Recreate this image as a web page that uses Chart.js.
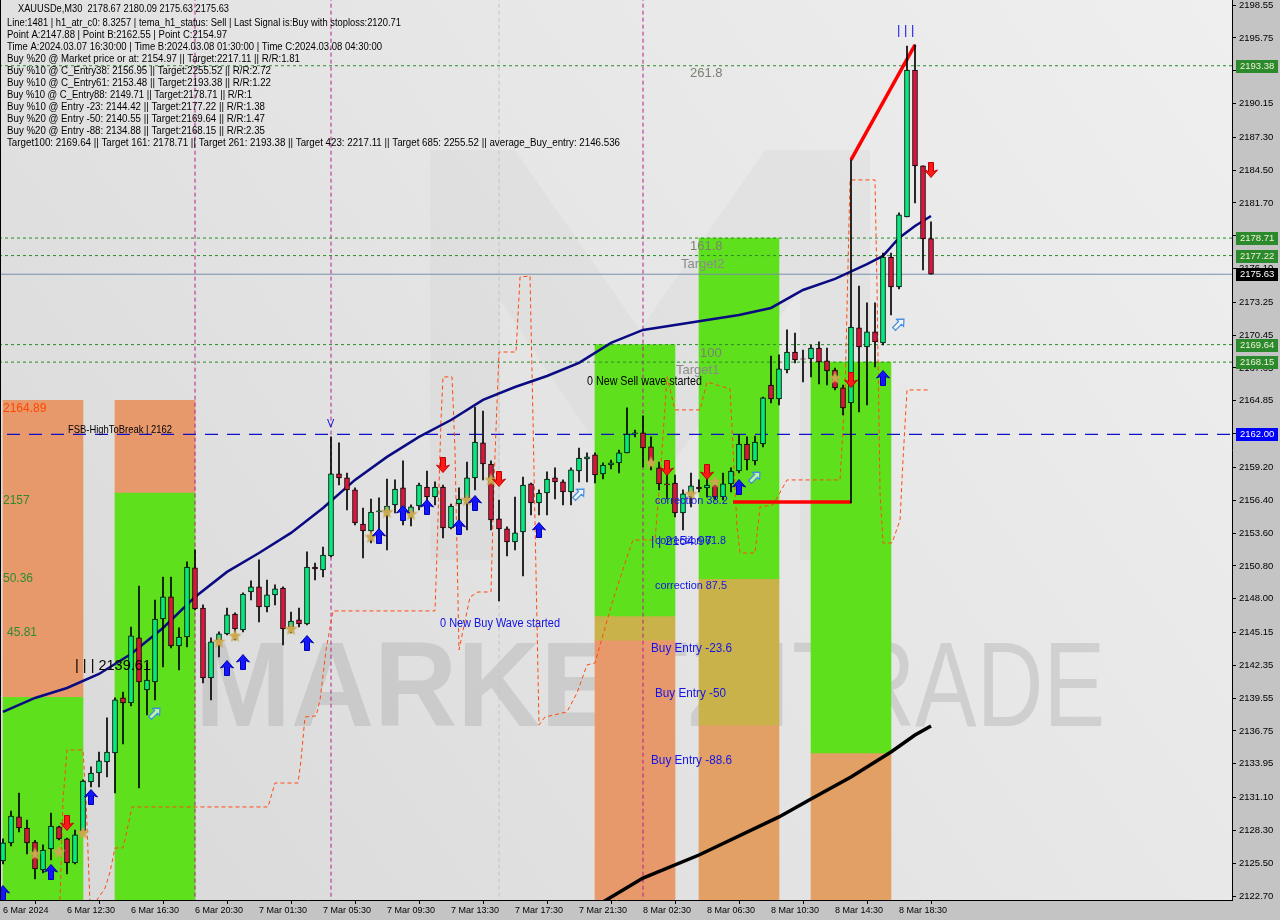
<!DOCTYPE html>
<html lang="en">
<head>
    <meta charset="UTF-8">
    <title>XAUUSDe M30</title>
    <script src="https://cdn.jsdelivr.net/npm/chart.js@4.4.1/dist/chart.umd.min.js"></script>
    <style>
        html, body {
            margin: 0;
            padding: 0;
            background: #c4c4c4;
        }
        #wrap {
            width: 1280px;
            height: 920px;
        }
    </style>
</head>
<body>
    <div id="wrap"><canvas id="chart" width="1280" height="920"></canvas></div>
    <script>
        // time axis: one tick every 8 bars (M30)
        var timeLabels = ['6 Mar 2024', '6 Mar 12:30', '6 Mar 16:30', '6 Mar 20:30', '7 Mar 01:30', '7 Mar 05:30',
            '7 Mar 09:30', '7 Mar 13:30', '7 Mar 17:30', '7 Mar 21:30', '8 Mar 02:30', '8 Mar 06:30',
            '8 Mar 10:30', '8 Mar 14:30', '8 Mar 18:30'];
        var timeTickBars = [0, 8, 16, 24, 32, 40, 48, 56, 64, 72, 80, 88, 96, 104, 112];

        var priceTicks = [2198.55, 2195.75, 2192.95, 2190.15, 2187.30, 2184.50, 2181.70, 2178.90, 2176.10, 2173.25,
            2170.45, 2167.65, 2164.85, 2162.05, 2159.20, 2156.40, 2153.60, 2150.80, 2148.00, 2145.15, 2142.35,
            2139.55, 2136.75, 2133.95, 2131.10, 2128.30, 2125.50, 2122.70];

        // candles, bar 0 = 6 Mar 08:30
        var open = [2125.68, 2127.22, 2129.43, 2128.49, 2127.30, 2124.92, 2126.70, 2128.58, 2127.56, 2125.51,
            2128.24, 2132.41, 2133.17, 2134.11, 2134.88, 2139.56, 2139.13, 2144.67, 2140.24, 2140.92,
            2146.28, 2148.16, 2143.99, 2144.75, 2150.63, 2147.22, 2141.26, 2144.50, 2145.01, 2146.71,
            2145.35, 2148.58, 2149.01, 2147.31, 2148.33, 2148.92, 2145.60, 2146.20, 2145.86, 2150.71,
            2150.46, 2151.65, 2158.63, 2158.29, 2157.27, 2154.37, 2153.78, 2155.39, 2155.39, 2155.99,
            2157.44, 2155.31, 2155.90, 2157.52, 2156.67, 2157.52, 2154.03, 2156.07, 2156.59, 2158.29,
            2161.27, 2159.48, 2154.80, 2153.95, 2152.84, 2153.69, 2157.78, 2156.16, 2157.01, 2158.29,
            2157.95, 2157.10, 2158.88, 2159.90, 2160.25, 2158.63, 2159.39, 2159.57, 2160.42, 2162.03,
            2162.12, 2160.93, 2159.14, 2157.78, 2157.86, 2155.31, 2156.93, 2157.52, 2157.44, 2157.69,
            2156.67, 2157.78, 2158.88, 2161.18, 2159.74, 2161.18, 2166.20, 2165.01, 2167.48, 2169.01,
            2168.42, 2168.42, 2169.35, 2168.25, 2167.48, 2165.95, 2164.67, 2171.06, 2169.44, 2170.72,
            2169.78, 2177.10, 2174.55, 2180.51, 2193.02, 2184.85, 2178.67];
        var high = [2127.56, 2129.94, 2131.47, 2129.17, 2127.45, 2127.05, 2129.77, 2128.66, 2127.64, 2128.32,
            2132.58, 2133.69, 2134.96, 2137.86, 2139.56, 2140.07, 2145.60, 2149.09, 2142.54, 2147.90,
            2149.86, 2149.86, 2145.52, 2151.14, 2152.16, 2147.48, 2144.67, 2145.18, 2147.22, 2146.80,
            2148.50, 2149.52, 2151.31, 2149.60, 2149.18, 2149.01, 2146.88, 2147.22, 2151.99, 2151.05,
            2152.41, 2161.78, 2161.27, 2158.71, 2157.44, 2155.73, 2156.50, 2156.59, 2158.20, 2158.12,
            2159.74, 2155.99, 2157.86, 2158.88, 2157.95, 2157.69, 2156.07, 2157.44, 2159.65, 2164.33,
            2163.99, 2159.74, 2156.41, 2154.12, 2156.67, 2158.37, 2157.86, 2157.27, 2158.80, 2159.14,
            2158.12, 2159.14, 2160.84, 2160.42, 2160.42, 2159.57, 2159.82, 2160.67, 2164.25, 2162.37,
            2163.57, 2161.78, 2159.65, 2158.80, 2158.54, 2157.27, 2158.71, 2158.12, 2158.54, 2158.12,
            2158.71, 2159.14, 2161.95, 2161.78, 2161.86, 2165.18, 2168.67, 2168.76, 2170.89, 2170.63,
            2169.18, 2169.61, 2169.87, 2169.35, 2167.65, 2166.20, 2185.36, 2174.63, 2173.19, 2173.19,
            2177.44, 2177.44, 2180.85, 2195.06, 2195.15, 2184.85, 2180.09];
        var low = [2125.43, 2126.96, 2128.15, 2126.28, 2124.15, 2124.66, 2125.77, 2127.47, 2124.58, 2125.43,
            2128.15, 2131.98, 2131.98, 2132.83, 2131.47, 2135.64, 2138.88, 2131.90, 2138.11, 2139.39,
            2142.20, 2143.82, 2141.94, 2143.90, 2147.05, 2140.84, 2139.39, 2143.05, 2144.92, 2144.50,
            2145.18, 2147.90, 2146.03, 2146.88, 2147.48, 2144.07, 2145.09, 2145.60, 2145.77, 2149.60,
            2149.86, 2151.56, 2157.69, 2155.56, 2154.29, 2151.48, 2152.75, 2153.69, 2152.16, 2155.31,
            2154.29, 2154.20, 2155.56, 2155.90, 2155.99, 2153.18, 2153.95, 2154.12, 2153.86, 2157.27,
            2158.12, 2153.86, 2147.82, 2151.65, 2152.16, 2149.95, 2155.14, 2155.14, 2155.14, 2156.50,
            2155.99, 2155.99, 2157.95, 2157.95, 2157.86, 2158.20, 2159.05, 2158.71, 2160.42, 2161.78,
            2159.22, 2158.97, 2157.27, 2156.50, 2154.97, 2153.86, 2155.82, 2157.10, 2156.67, 2156.41,
            2156.41, 2157.10, 2158.71, 2158.97, 2159.39, 2160.93, 2164.67, 2164.50, 2167.23, 2168.08,
            2166.46, 2166.89, 2166.29, 2166.20, 2165.78, 2163.65, 2156.16, 2163.91, 2164.50, 2167.74,
            2169.61, 2172.16, 2174.38, 2180.51, 2181.70, 2175.99, 2175.63];
        var close = [2127.22, 2129.51, 2128.49, 2127.22, 2125.00, 2126.62, 2128.66, 2127.56, 2125.51, 2127.90,
            2132.49, 2133.17, 2134.20, 2134.96, 2139.39, 2139.13, 2144.84, 2140.92, 2141.09, 2146.28,
            2148.16, 2143.99, 2144.75, 2150.71, 2147.14, 2141.26, 2144.33, 2145.01, 2146.63, 2145.43,
            2148.41, 2149.01, 2147.31, 2148.33, 2148.84, 2145.43, 2146.11, 2145.86, 2150.71, 2150.54,
            2151.73, 2158.63, 2158.29, 2157.27, 2154.46, 2153.78, 2155.39, 2155.48, 2155.90, 2157.35,
            2155.39, 2155.82, 2157.69, 2156.67, 2157.52, 2154.03, 2155.90, 2156.50, 2158.29, 2161.35,
            2159.48, 2154.71, 2153.95, 2152.84, 2153.61, 2157.69, 2156.16, 2157.01, 2158.20, 2157.95,
            2157.10, 2158.97, 2159.99, 2160.08, 2158.54, 2159.39, 2159.57, 2160.42, 2162.03, 2162.12,
            2160.84, 2159.65, 2157.78, 2157.69, 2155.31, 2156.93, 2157.61, 2157.35, 2157.69, 2156.67,
            2157.78, 2158.88, 2161.18, 2159.82, 2161.35, 2165.10, 2165.01, 2167.57, 2169.01, 2168.33,
            2168.40, 2169.35, 2168.16, 2167.40, 2165.95, 2164.25, 2171.14, 2169.44, 2170.72, 2169.87,
            2177.10, 2174.55, 2180.68, 2193.02, 2184.85, 2178.63, 2175.63];

        // moving average (navy)
        var maBars = [0, 4, 8, 12, 16, 20, 24, 28, 32, 36, 40, 44, 48, 52, 56, 60, 64, 68, 72, 76, 80, 84, 88, 92,
            96, 100, 104, 108, 110, 112, 114, 116];
        var maValues = [2138.37, 2139.56, 2140.41, 2141.60, 2143.30, 2145.52, 2148.16, 2150.29, 2151.90, 2153.61,
            2155.73, 2158.12, 2160.08, 2161.78, 2163.22, 2164.93, 2166.03, 2166.97, 2168.08, 2169.78, 2170.89,
            2171.31, 2171.74, 2172.16, 2172.76, 2174.29, 2175.23, 2176.50, 2177.19, 2178.72, 2179.74, 2180.59];

        // long black trend line
        var blackBars = [75, 80, 87, 97, 101, 106, 111, 114, 116];
        var blackValues = [2122.19, 2124.23, 2126.19, 2129.43, 2130.96, 2132.83, 2134.96, 2136.41, 2137.18];

        // red zigzag pieces
        var redFlatBars = [91.25, 106];
        var redFlatValues = [2156.24, 2156.24];
        var redUpBars = [106, 114];
        var redUpValues = [2185.36, 2195.15];

        // orange dashed stop line
        var stopBars = [7.13, 7.5, 8.0, 10.0, 10.38, 10.88, 11.75, 12.75, 13.38, 14.0, 15.0, 15.38, 16.13, 33.13, 34.0,
            36.88, 37.25, 37.75, 39.13, 39.63, 40.38, 41.25, 54.0, 54.25, 54.75, 55.0, 56.13, 56.5, 57.0, 58.38,
            59.38, 61.0, 61.38, 62.0, 64.13, 64.63, 65.88, 66.25, 67.0, 67.75, 70.5, 71.75, 73.0, 74.0, 76.25,
            77.88, 78.75, 81.5, 82.13, 83.0, 84.0, 87.13, 88.0, 90.88, 91.75, 92.13, 94.0, 94.63, 96.25, 98.0,
            104.63, 105.25, 105.88, 109.0, 109.25, 109.63, 110.0, 111.13, 112.13, 112.5, 113.0, 115.88];
        var stopValues = [2122.36, 2130.87, 2135.13, 2135.13, 2130.87, 2121.94, 2122.36, 2123.38, 2124.74, 2126.79,
            2126.79, 2127.90, 2130.28, 2130.28, 2132.32, 2132.32, 2134.28, 2137.94, 2138.03, 2139.39, 2143.65,
            2146.97, 2146.97, 2151.90, 2163.22, 2166.89, 2166.89, 2160.67, 2143.65, 2148.16, 2148.58, 2148.58,
            2158.12, 2169.01, 2169.01, 2175.40, 2175.48, 2163.22, 2137.26, 2137.94, 2138.37, 2139.99, 2142.37,
            2142.54, 2147.90, 2151.31, 2153.01, 2153.01, 2158.12, 2166.89, 2164.08, 2164.08, 2166.46, 2165.86,
            2154.12, 2151.90, 2151.90, 2155.82, 2155.99, 2158.12, 2158.12, 2165.52, 2183.66, 2183.66, 2174.55,
            2157.01, 2152.75, 2152.75, 2154.71, 2159.82, 2165.78, 2165.78];

        // horizontal levels
        var targetLevels = [2193.38, 2178.71, 2177.22, 2169.64, 2168.15];
        var lastPrice = 2175.63;
        var breakLevel = 2162.00;

        // vertical separators (bar index)
        var separatorBars = [24, 41, 80];
        var greySeparatorBars = [62];

        // coloured zones: centre bar, low, high
        var greenZoneBars = [5, 19, 79, 92, 106];
        var greenZoneLow = [2110, 2110, 2146.54, 2149.71, 2134.88];
        var greenZoneHigh = [2139.61, 2157.00, 2169.64, 2178.71, 2168.15];
        var orangeZoneBars = [5, 19, 79];
        var orangeZoneLow = [2139.61, 2157.00, 2110];
        var orangeZoneHigh = [2164.89, 2164.89, 2144.42];
        var khakiZoneBars = [79, 92];
        var khakiZoneLow = [2144.42, 2137.26];
        var khakiZoneHigh = [2146.54, 2149.71];
        var tanZoneBars = [92, 106];
        var tanZoneLow = [2110, 2110];
        var tanZoneHigh = [2137.26, 2134.88];

        // signal markers
        var buyArrowBars = [0, 6, 11, 28, 30, 38, 47, 50, 53, 57, 59, 67, 92, 110];
        var buyArrowPrices = [2122.96, 2124.75, 2131.13, 2142.11, 2142.62, 2144.24, 2153.35, 2155.31, 2155.82,
            2154.12, 2156.16, 2153.86, 2157.52, 2166.80];
        var sellArrowBars = [8, 55, 62, 83, 88, 106, 116];
        var sellArrowPrices = [2128.92, 2159.39, 2158.20, 2159.14, 2158.80, 2166.63, 2184.51];
        var starBars = [4, 7, 10, 27, 29, 36, 46, 48, 51, 58, 61, 81, 86, 89, 104];
        var starPrices = [2126.28, 2126.45, 2128.07, 2144.33, 2144.84, 2145.43, 2153.27, 2155.39, 2155.22,
            2156.41, 2158.12, 2159.57, 2156.93, 2157.95, 2166.80];
        var hollowBars = [19, 72, 94, 112];
        var hollowPrices = [2138.28, 2156.93, 2158.37, 2171.40];

        var headerLines = [
            'XAUUSDe,M30  2178.67 2180.09 2175.63 2175.63',
            'Line:1481 | h1_atr_c0: 8.3257 | tema_h1_status: Sell | Last Signal is:Buy with stoploss:2120.71',
            'Point A:2147.88 | Point B:2162.55 | Point C:2154.97',
            'Time A:2024.03.07 16:30:00 | Time B:2024.03.08 01:30:00 | Time C:2024.03.08 04:30:00',
            'Buy %20 @ Market price or at: 2154.97 || Target:2217.11 || R/R:1.81',
            'Buy %10 @ C_Entry38: 2156.95 || Target:2255.52 || R/R:2.72',
            'Buy %10 @ C_Entry61: 2153.48 || Target:2193.38 || R/R:1.22',
            'Buy %10 @ C_Entry88: 2149.71 || Target:2178.71 || R/R:1',
            'Buy %10 @ Entry -23: 2144.42 || Target:2177.22 || R/R:1.38',
            'Buy %20 @ Entry -50: 2140.55 || Target:2169.64 || R/R:1.47',
            'Buy %20 @ Entry -88: 2134.88 || Target:2168.15 || R/R:2.35',
            'Target100: 2169.64 || Target 161: 2178.71 || Target 261: 2193.38 || Target 423: 2217.11 || Target 685: 2255.52 || average_Buy_entry: 2146.536'
        ];

        // ---------- helpers ----------
        function pts(xs, ys) {
            return xs.map(function(x, i) { return { x: x, y: ys[i] }; });
        }
        function spans(xs, lo, hi) {
            return xs.map(function(x, i) { return { x: x, y: [lo[i], hi[i]] }; });
        }
        function hline(v) {
            return [{ x: -5, y: v }, { x: 170, y: v }];
        }
        function vline(b) {
            return [{ x: b, y: 2100 }, { x: b, y: 2210 }];
        }

        function makeArrow(color, edge, down) {
            var c = document.createElement('canvas');
            c.width = 14; c.height = 16;
            var g = c.getContext('2d');
            var p = [[7, 0.5], [13.5, 8], [9.5, 6.5], [9.5, 15.5], [4.5, 15.5], [4.5, 6.5], [0.5, 8]];
            g.beginPath();
            p.forEach(function(q, i) {
                var y = down ? 16 - q[1] : q[1];
                if (i === 0) g.moveTo(q[0], y); else g.lineTo(q[0], y);
            });
            g.closePath();
            g.fillStyle = color;
            g.fill();
            g.strokeStyle = edge;
            g.lineWidth = 1;
            g.stroke();
            return c;
        }
        function makeStar() {
            var c = document.createElement('canvas');
            c.width = 15; c.height = 15;
            var g = c.getContext('2d');
            g.beginPath();
            for (var i = 0; i < 10; i++) {
                var r = i % 2 === 0 ? 7 : 3;
                var a = -Math.PI / 2 + i * Math.PI / 5;
                var x = 7.5 + r * Math.cos(a), y = 7.8 + r * Math.sin(a);
                if (i === 0) g.moveTo(x, y); else g.lineTo(x, y);
            }
            g.closePath();
            g.fillStyle = '#c9a84e';
            g.fill();
            return c;
        }
        function makeHollow() {
            var c = document.createElement('canvas');
            c.width = 16; c.height = 16;
            var g = c.getContext('2d');
            g.translate(8, 8);
            g.rotate(Math.PI / 4);
            var p = [[0, -7], [5, -1.5], [2, -1.5], [2, 7], [-2, 7], [-2, -1.5], [-5, -1.5]];
            g.beginPath();
            p.forEach(function(q, i) { if (i === 0) g.moveTo(q[0], q[1]); else g.lineTo(q[0], q[1]); });
            g.closePath();
            g.fillStyle = 'rgba(255,255,255,0.6)';
            g.fill();
            g.strokeStyle = '#3d8de0';
            g.lineWidth = 1.2;
            g.stroke();
            return c;
        }

        var bars = open.map(function(v, i) { return i; });
        var bodyColors = open.map(function(v, i) { return close[i] >= v ? '#00ec7c' : '#dc143c'; });

        var yMax = 2198.976;
        var yMin = 2122.36;
        var xMin = -0.375;
        var xMax = 153.625;

        function lineSet(data, color, width, order, dash) {
            return {
                type: 'line', data: data, borderColor: color, borderWidth: width, pointRadius: 0,
                tension: 0, fill: false, order: order, borderDash: dash || []
            };
        }
        function markerSet(data, img) {
            return {
                type: 'line', data: data, showLine: false, pointStyle: img, pointRadius: 6, order: 5
            };
        }
        function zoneSet(data, color) {
            return {
                type: 'bar', data: data, backgroundColor: color, barThickness: 80, grouped: false,
                borderWidth: 0, order: 200
            };
        }

        var datasets = [
            zoneSet(spans(greenZoneBars, greenZoneLow, greenZoneHigh), '#5fe01c'),
            zoneSet(spans(orangeZoneBars, orangeZoneLow, orangeZoneHigh), '#e8996b'),
            zoneSet(spans(khakiZoneBars, khakiZoneLow, khakiZoneHigh), '#cab24a'),
            zoneSet(spans(tanZoneBars, tanZoneLow, tanZoneHigh), '#e2a064')
        ];
        separatorBars.forEach(function(b) {
            datasets.push(lineSet(vline(b), '#b0208c', 1, 150, [4, 3]));
        });
        greySeparatorBars.forEach(function(b) {
            datasets.push(lineSet(vline(b), '#c4c4c4', 1, 150, [4, 3]));
        });
        targetLevels.forEach(function(v) {
            datasets.push(lineSet(hline(v), '#2a8c2a', 1, 140, [3, 3]));
        });
        datasets.push(lineSet(hline(lastPrice), '#7890a8', 1, 140));
        datasets.push(lineSet(hline(breakLevel), '#1010c8', 1.2, 140, [13, 9]));
        datasets.push(lineSet(pts(stopBars, stopValues), '#ff4a10', 1, 120, [4, 3]));
        datasets.push(lineSet(pts(blackBars, blackValues), '#000000', 3.5, 110));
        datasets.push(lineSet(pts(maBars, maValues), '#0a0a82', 2.5, 100));
        datasets.push(lineSet(pts(redFlatBars, redFlatValues), '#ff0000', 3.5, 90));
        datasets.push(lineSet(pts(redUpBars, redUpValues), '#ff0000', 3.5, 90));
        datasets.push({
            type: 'bar', data: spans(bars, low, high), backgroundColor: '#000', barThickness: 1,
            grouped: false, order: 40
        });
        datasets.push({
            type: 'bar', data: spans(bars, open, close), backgroundColor: bodyColors, borderColor: '#000',
            borderWidth: 1, borderSkipped: false, barThickness: 5, grouped: false, order: 30
        });
        datasets.push(markerSet(pts(buyArrowBars, buyArrowPrices), makeArrow('#1414ff', '#0000b0', false)));
        datasets.push(markerSet(pts(sellArrowBars, sellArrowPrices), makeArrow('#ff1a1a', '#c00000', true)));
        datasets.push(markerSet(pts(starBars, starPrices), makeStar()));
        datasets.push(markerSet(pts(hollowBars, hollowPrices), makeHollow()));

        // background, watermark, texts and price tags
        var decor = {
            id: 'decor',
            beforeDraw: function(chart) {
                var ctx = chart.ctx, a = chart.chartArea;
                ctx.save();
                ctx.fillStyle = '#c4c4c4';
                ctx.fillRect(0, 0, chart.width, chart.height);
                var g = ctx.createLinearGradient(a.left, a.bottom, a.right, a.top);
                g.addColorStop(0, '#d8d8d8');
                g.addColorStop(0.55, '#e6e6e6');
                g.addColorStop(1, '#efefef');
                ctx.fillStyle = g;
                ctx.fillRect(a.left, a.top, a.right - a.left, a.bottom - a.top);
                ctx.restore();
            },
            beforeDatasetsDraw: function(chart) {
                var ctx = chart.ctx, a = chart.chartArea;
                ctx.save();
                ctx.beginPath();
                ctx.rect(a.left, a.top, a.right - a.left, a.bottom - a.top);
                ctx.clip();
                // faint logo behind the candles
                ctx.fillStyle = 'rgba(185,185,185,0.13)';
                ctx.beginPath();
                ctx.moveTo(430, 150); ctx.lineTo(515, 150); ctx.lineTo(640, 330); ctx.lineTo(765, 150);
                ctx.lineTo(870, 150); ctx.lineTo(870, 560); ctx.lineTo(800, 560); ctx.lineTo(800, 290);
                ctx.lineTo(660, 480); ctx.lineTo(620, 480); ctx.lineTo(500, 300); ctx.lineTo(500, 560);
                ctx.lineTo(430, 560); ctx.closePath();
                ctx.fill();

                ctx.fillStyle = 'rgba(165,165,165,0.36)';
                ctx.font = 'bold 120px "Liberation Sans"';
                ctx.textBaseline = 'alphabetic';
                ctx.fillText('MARKETZI', 195, 726, 595);
                ctx.fillStyle = 'rgba(165,165,165,0.36)';
                ctx.font = '120px "Liberation Sans"';
                ctx.fillText('TRADE', 792, 726, 313);
                ctx.restore();
            },
            afterDatasetsDraw: function(chart) {
                var ctx = chart.ctx;
                ctx.save();
                ctx.textBaseline = 'middle';
                ctx.textAlign = 'left';

                function t(s, x, y, color, size, maxW) {
                    ctx.fillStyle = color;
                    ctx.font = size + 'px "Liberation Sans"';
                    if (maxW) ctx.fillText(s, x, y, maxW); else ctx.fillText(s, x, y);
                }

                t('2164.89', 3, 409, '#ff4500', 12);
                t('2157', 3, 501, '#2f8a2f', 12);
                t('50.36', 3, 579, '#2f8a2f', 12);
                t('45.81', 7, 633, '#2f8a2f', 12);
                t('| | | 2139.61', 75, 666, '#000', 15, 76);
                t('FSB-HighToBreak | 2162', 68, 430, '#000', 11, 104);
                t('V', 327, 424, '#1010e0', 11);
                t('0 New Buy Wave started', 440, 624, '#1010e0', 12, 120);
                t('0 New Sell wave started', 587, 382, '#000', 12, 115);
                t('261.8', 690, 73, '#7a8270', 13);
                t('161.8', 690, 246, '#7a8270', 13);
                t('Target2', 681, 264, '#8a8a8a', 13);
                t('100', 700, 353, '#7a8270', 13);
                t('Target1', 676, 370, '#8a8a8a', 13);
                t('correction 38.2', 655, 501, '#1414e6', 11, 73);
                t('| | 2154.97', 651, 541, '#1414e6', 13, 64);
                t('correction 61.8', 655, 541, '#1414e6', 11, 71);
                t('correction 87.5', 655, 586, '#1414e6', 11, 72);
                t('Buy Entry -23.6', 651, 649, '#1414e6', 12, 81);
                t('Buy Entry -50', 655, 694, '#1414e6', 12, 71);
                t('Buy Entry -88.6', 651, 761, '#1414e6', 12, 81);
                t('| | |', 897, 30, '#1414e6', 13);

                var widths = [211, 394, 220, 375, 293, 264, 264, 245, 258, 258, 258, 613];
                headerLines.forEach(function(s, i) {
                    var y = i === 0 ? 9 : 23 + (i - 1) * 12;
                    t(s, i === 0 ? 18 : 7, y, '#000', 10, widths[i]);
                });
                ctx.restore();
            },
            afterDraw: function(chart) {
                var ctx = chart.ctx, a = chart.chartArea, ys = chart.scales.y;
                ctx.save();
                ctx.strokeStyle = '#000';
                ctx.lineWidth = 1;
                ctx.beginPath();
                ctx.moveTo(a.left + 0.5, a.top);
                ctx.lineTo(a.left + 0.5, a.bottom);
                ctx.stroke();

                function tag(v, bg, fg) {
                    var y = Math.round(ys.getPixelForValue(v));
                    ctx.fillStyle = bg;
                    ctx.fillRect(a.right + 4, y - 6, 42, 13);
                    ctx.fillStyle = fg;
                    ctx.font = '9.5px "Liberation Sans"';
                    ctx.textBaseline = 'middle';
                    ctx.fillText(v.toFixed(2), a.right + 8, y + 0.5);
                }
                targetLevels.forEach(function(v) { tag(v, '#2b8a2b', '#f0f0d8'); });
                tag(lastPrice, '#000000', '#ffffff');
                tag(breakLevel, '#0000ff', '#ffffff');
                ctx.restore();
            }
        };

        function noPad(s) {
            s.paddingLeft = 0;
            s.paddingRight = 0;
            s.paddingTop = 0;
            s.paddingBottom = 0;
        }

        new Chart(document.getElementById('chart'), {
            type: 'bar',
            data: { datasets: datasets },
            options: {
                responsive: false,
                animation: false,
                events: [],
                layout: { padding: 0, autoPadding: false },
                plugins: { legend: { display: false }, tooltip: { enabled: false } },
                scales: {
                    x: {
                        type: 'linear', min: xMin, max: xMax, offset: false,
                        grid: { drawOnChartArea: false, tickLength: 4, color: '#000' },
                        border: { display: true, color: '#000' },
                        ticks: {
                            autoSkip: false, maxRotation: 0, align: 'start', padding: 1, color: '#000',
                            font: { family: 'Liberation Sans', size: 9 },
                            callback: function(v, i) { return timeLabels[i]; }
                        },
                        afterBuildTicks: function(s) {
                            s.ticks = timeTickBars.map(function(b) { return { value: b }; });
                        },
                        afterFit: function(s) { s.height = 20; noPad(s); }
                    },
                    y: {
                        type: 'linear', position: 'right', min: yMin, max: yMax,
                        grid: { drawOnChartArea: false, tickLength: 4, color: '#000' },
                        border: { display: true, color: '#000' },
                        ticks: {
                            padding: 3, color: '#000',
                            font: { family: 'Liberation Sans', size: 9.5 },
                            callback: function(v) { return v.toFixed(2); }
                        },
                        afterBuildTicks: function(s) {
                            s.ticks = priceTicks.map(function(p) { return { value: p }; });
                        },
                        afterFit: function(s) { s.width = 48; noPad(s); }
                    }
                }
            },
            plugins: [decor]
        });
    </script>
</body>
</html>
